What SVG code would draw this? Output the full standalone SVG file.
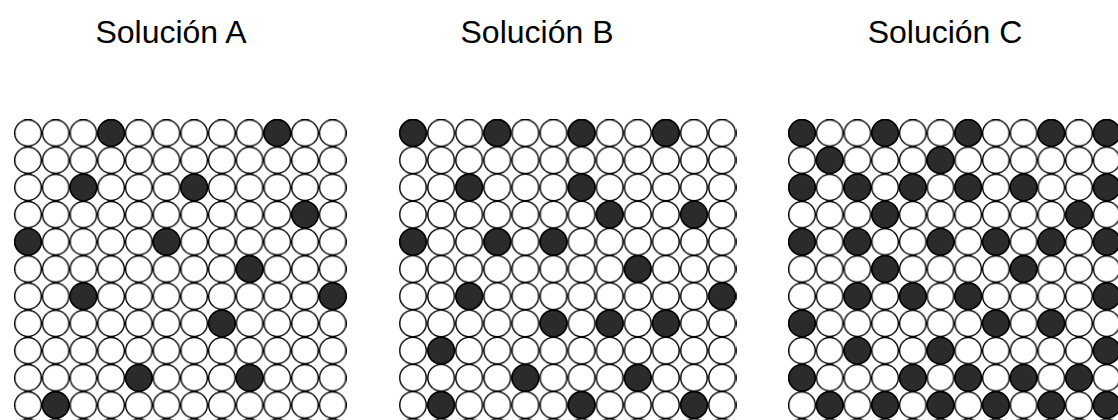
<svg xmlns="http://www.w3.org/2000/svg" width="1118" height="420" viewBox="0 0 1118 420">
<style>
.title{font-family:"Liberation Sans",Arial,sans-serif;font-size:32px;fill:#000;text-anchor:middle}
.d{fill:#2b2b2b;stroke:#000;stroke-width:1.4}
</style>
<defs>
<pattern id="gridA" patternUnits="userSpaceOnUse" x="-13.85" y="-13.6" width="27.7" height="27.2">
<rect width="27.7" height="27.2" fill="#fff"/>
<circle cx="13.85" cy="13.6" r="13.2" fill="none" stroke="#000" stroke-width="1.4"/>
</pattern>
<pattern id="gridB" patternUnits="userSpaceOnUse" x="-14.05" y="-13.6" width="28.1" height="27.2">
<rect width="28.1" height="27.2" fill="#fff"/>
<circle cx="14.05" cy="13.6" r="13.3" fill="none" stroke="#000" stroke-width="1.4"/>
</pattern>
<circle id="dk" r="13.2" class="d"/>
</defs>
<rect width="1118" height="420" fill="#fff"/>
<g id="titles">
<text class="title" x="171" y="43">Solución A</text>
<text class="title" x="537" y="43">Solución B</text>
<text class="title" x="945" y="43">Solución C</text>
</g>
<g id="panelA" transform="translate(28,133)">
<rect x="-14" y="-14" width="333" height="302" fill="url(#gridA)"/>
<use href="#dk" x="83.1" y="0"/><use href="#dk" x="249.3" y="0"/>
<use href="#dk" x="55.4" y="54.4"/><use href="#dk" x="166.2" y="54.4"/>
<use href="#dk" x="277" y="81.6"/>
<use href="#dk" x="0" y="108.8"/><use href="#dk" x="138.5" y="108.8"/>
<use href="#dk" x="221.6" y="136"/>
<use href="#dk" x="55.4" y="163.2"/><use href="#dk" x="304.7" y="163.2"/>
<use href="#dk" x="193.9" y="190.4"/>
<use href="#dk" x="110.8" y="244.8"/><use href="#dk" x="221.6" y="244.8"/>
<use href="#dk" x="27.7" y="272"/>
</g>
<g id="panelB" transform="translate(413,133)">
<rect x="-14" y="-14" width="338" height="302" fill="url(#gridB)"/>
<use href="#dk" x="0" y="0"/><use href="#dk" x="84.3" y="0"/><use href="#dk" x="168.6" y="0"/><use href="#dk" x="252.9" y="0"/>
<use href="#dk" x="56.2" y="54.4"/><use href="#dk" x="168.6" y="54.4"/>
<use href="#dk" x="196.7" y="81.6"/><use href="#dk" x="281" y="81.6"/>
<use href="#dk" x="0" y="108.8"/><use href="#dk" x="84.3" y="108.8"/><use href="#dk" x="140.5" y="108.8"/>
<use href="#dk" x="224.8" y="136"/>
<use href="#dk" x="56.2" y="163.2"/><use href="#dk" x="309.1" y="163.2"/>
<use href="#dk" x="140.5" y="190.4"/><use href="#dk" x="196.7" y="190.4"/><use href="#dk" x="252.9" y="190.4"/>
<use href="#dk" x="28.1" y="217.6"/>
<use href="#dk" x="112.4" y="244.8"/><use href="#dk" x="224.8" y="244.8"/>
<use href="#dk" x="28.1" y="272"/><use href="#dk" x="168.6" y="272"/><use href="#dk" x="281" y="272"/>
</g>
<g id="panelC" transform="translate(802,133)">
<rect x="-14" y="-14" width="333" height="302" fill="url(#gridA)"/>
<use href="#dk" x="0" y="0"/><use href="#dk" x="83.1" y="0"/><use href="#dk" x="166.2" y="0"/><use href="#dk" x="249.3" y="0"/><use href="#dk" x="304.7" y="0"/>
<use href="#dk" x="27.7" y="27.2"/><use href="#dk" x="138.5" y="27.2"/>
<use href="#dk" x="0" y="54.4"/><use href="#dk" x="55.4" y="54.4"/><use href="#dk" x="110.8" y="54.4"/><use href="#dk" x="166.2" y="54.4"/><use href="#dk" x="221.6" y="54.4"/><use href="#dk" x="304.7" y="54.4"/>
<use href="#dk" x="83.1" y="81.6"/><use href="#dk" x="277" y="81.6"/>
<use href="#dk" x="0" y="108.8"/><use href="#dk" x="55.4" y="108.8"/><use href="#dk" x="138.5" y="108.8"/><use href="#dk" x="193.9" y="108.8"/><use href="#dk" x="249.3" y="108.8"/><use href="#dk" x="304.7" y="108.8"/>
<use href="#dk" x="83.1" y="136"/><use href="#dk" x="221.6" y="136"/>
<use href="#dk" x="55.4" y="163.2"/><use href="#dk" x="110.8" y="163.2"/><use href="#dk" x="166.2" y="163.2"/><use href="#dk" x="304.7" y="163.2"/>
<use href="#dk" x="0" y="190.4"/><use href="#dk" x="193.9" y="190.4"/><use href="#dk" x="249.3" y="190.4"/>
<use href="#dk" x="55.4" y="217.6"/><use href="#dk" x="138.5" y="217.6"/><use href="#dk" x="304.7" y="217.6"/>
<use href="#dk" x="0" y="244.8"/><use href="#dk" x="110.8" y="244.8"/><use href="#dk" x="166.2" y="244.8"/><use href="#dk" x="221.6" y="244.8"/><use href="#dk" x="277" y="244.8"/>
<use href="#dk" x="27.7" y="272"/><use href="#dk" x="83.1" y="272"/><use href="#dk" x="138.5" y="272"/><use href="#dk" x="193.9" y="272"/><use href="#dk" x="249.3" y="272"/><use href="#dk" x="304.7" y="272"/>
</g>
</svg>
